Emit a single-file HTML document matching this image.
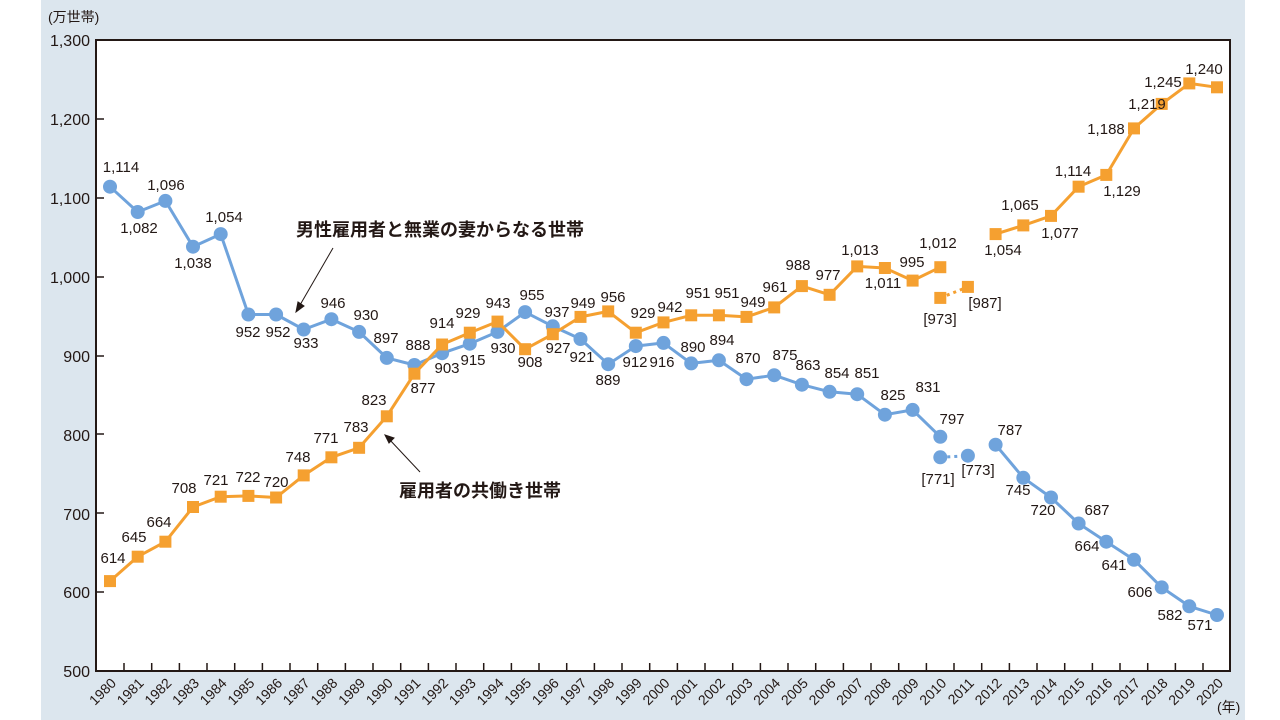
<!DOCTYPE html>
<html><head><meta charset="utf-8"><style>
html,body{margin:0;padding:0;background:#fff;}
svg{display:block;font-family:"Liberation Sans","Noto Sans CJK JP",sans-serif;}
.t{font-size:15px;fill:#231815;text-anchor:middle;}
.a{font-size:16px;fill:#231815;text-anchor:end;}
.x{font-size:14px;fill:#231815;text-anchor:end;}
</style></head><body>
<svg width="1280" height="720" viewBox="0 0 1280 720" xmlns="http://www.w3.org/2000/svg">
<rect x="41" y="0" width="1204" height="720" fill="#dce6ee"/>
<rect x="96" y="40" width="1134" height="631" fill="#fff" stroke="#231815" stroke-width="2"/>
<text x="48" y="22" style="font-size:14px;fill:#231815">(万世帯)</text>
<g>
<text class="a" x="90" y="46">1,300</text>
<text class="a" x="90" y="125">1,200</text>
<text class="a" x="90" y="204">1,100</text>
<text class="a" x="90" y="283">1,000</text>
<text class="a" x="90" y="362">900</text>
<text class="a" x="90" y="441">800</text>
<text class="a" x="90" y="520">700</text>
<text class="a" x="90" y="598">600</text>
<text class="a" x="90" y="677">500</text>
</g>
<g stroke="#231815" stroke-width="1.5">
<line x1="96" y1="119" x2="104" y2="119"/><line x1="96" y1="198" x2="104" y2="198"/><line x1="96" y1="277" x2="104" y2="277"/><line x1="96" y1="356" x2="104" y2="356"/><line x1="96" y1="434" x2="104" y2="434"/><line x1="96" y1="513" x2="104" y2="513"/><line x1="96" y1="592" x2="104" y2="592"/>
<path d="M124 671v-8M151.7 671v-8M179.4 671v-8M207 671v-8M234.7 671v-8M262.4 671v-8M290 671v-8M317.7 671v-8M345.4 671v-8M373 671v-8M400.7 671v-8M428.4 671v-8M456 671v-8M483.7 671v-8M511.4 671v-8M539 671v-8M566.7 671v-8M594.4 671v-8M622 671v-8M649.7 671v-8M677.4 671v-8M705 671v-8M732.7 671v-8M760.4 671v-8M788 671v-8M815.7 671v-8M843.4 671v-8M871 671v-8M898.7 671v-8M926.4 671v-8M954 671v-8M981.7 671v-8M1009.4 671v-8M1037 671v-8M1064.7 671v-8M1092.4 671v-8M1120 671v-8M1147.7 671v-8M1175.4 671v-8M1203 671v-8"/>
</g>
<g>
<text class="x" transform="translate(117,684) rotate(-45)">1980</text>
<text class="x" transform="translate(144.7,684) rotate(-45)">1981</text>
<text class="x" transform="translate(172.4,684) rotate(-45)">1982</text>
<text class="x" transform="translate(200,684) rotate(-45)">1983</text>
<text class="x" transform="translate(227.7,684) rotate(-45)">1984</text>
<text class="x" transform="translate(255.4,684) rotate(-45)">1985</text>
<text class="x" transform="translate(283.1,684) rotate(-45)">1986</text>
<text class="x" transform="translate(310.7,684) rotate(-45)">1987</text>
<text class="x" transform="translate(338.4,684) rotate(-45)">1988</text>
<text class="x" transform="translate(366.1,684) rotate(-45)">1989</text>
<text class="x" transform="translate(393.8,684) rotate(-45)">1990</text>
<text class="x" transform="translate(421.4,684) rotate(-45)">1991</text>
<text class="x" transform="translate(449.1,684) rotate(-45)">1992</text>
<text class="x" transform="translate(476.8,684) rotate(-45)">1993</text>
<text class="x" transform="translate(504.5,684) rotate(-45)">1994</text>
<text class="x" transform="translate(532.1,684) rotate(-45)">1995</text>
<text class="x" transform="translate(559.8,684) rotate(-45)">1996</text>
<text class="x" transform="translate(587.5,684) rotate(-45)">1997</text>
<text class="x" transform="translate(615.2,684) rotate(-45)">1998</text>
<text class="x" transform="translate(642.8,684) rotate(-45)">1999</text>
<text class="x" transform="translate(670.5,684) rotate(-45)">2000</text>
<text class="x" transform="translate(698.2,684) rotate(-45)">2001</text>
<text class="x" transform="translate(725.9,684) rotate(-45)">2002</text>
<text class="x" transform="translate(753.5,684) rotate(-45)">2003</text>
<text class="x" transform="translate(781.2,684) rotate(-45)">2004</text>
<text class="x" transform="translate(808.9,684) rotate(-45)">2005</text>
<text class="x" transform="translate(836.6,684) rotate(-45)">2006</text>
<text class="x" transform="translate(864.2,684) rotate(-45)">2007</text>
<text class="x" transform="translate(891.9,684) rotate(-45)">2008</text>
<text class="x" transform="translate(919.6,684) rotate(-45)">2009</text>
<text class="x" transform="translate(947.3,684) rotate(-45)">2010</text>
<text class="x" transform="translate(974.9,684) rotate(-45)">2011</text>
<text class="x" transform="translate(1002.6,684) rotate(-45)">2012</text>
<text class="x" transform="translate(1030.3,684) rotate(-45)">2013</text>
<text class="x" transform="translate(1058,684) rotate(-45)">2014</text>
<text class="x" transform="translate(1085.6,684) rotate(-45)">2015</text>
<text class="x" transform="translate(1113.3,684) rotate(-45)">2016</text>
<text class="x" transform="translate(1141,684) rotate(-45)">2017</text>
<text class="x" transform="translate(1168.7,684) rotate(-45)">2018</text>
<text class="x" transform="translate(1196.3,684) rotate(-45)">2019</text>
<text class="x" transform="translate(1224,684) rotate(-45)">2020</text>
</g>
<text x="1217" y="712" style="font-size:14px;fill:#231815">(年)</text>

<g fill="none" stroke="#6fa3dc" stroke-width="3" stroke-linejoin="round">
<polyline points="110,186.7 137.7,212 165.4,200.9 193,246.7 220.7,234.1 248.4,314.5 276.1,314.5 303.7,329.5 331.4,319.2 359.1,331.9 386.8,357.9 414.4,365 442.1,353.2 469.8,343.7 497.5,331.9 525.1,312.1 552.8,326.3 580.5,339 608.2,364.2 635.8,346.1 663.5,342.9 691.2,363.4 718.9,360.3 746.5,379.2 774.2,375.2 801.9,384.7 829.6,391.8 857.2,394.2 884.9,414.7 912.6,409.9 940.3,436.8"/>
<polyline points="995.6,444.7 1023.3,477.8 1051,497.5 1078.6,523.5 1106.3,541.7 1134,559.8 1161.7,587.4 1189.3,606.3 1217,615"/>
<line x1="940.3" y1="457.3" x2="967.9" y2="455.7" stroke-dasharray="3,4"/>
</g>
<g fill="#6fa3dc">
<circle cx="110" cy="186.7" r="7"/><circle cx="137.7" cy="212" r="7"/><circle cx="165.4" cy="200.9" r="7"/><circle cx="193" cy="246.7" r="7"/><circle cx="220.7" cy="234.1" r="7"/><circle cx="248.4" cy="314.5" r="7"/><circle cx="276.1" cy="314.5" r="7"/><circle cx="303.7" cy="329.5" r="7"/><circle cx="331.4" cy="319.2" r="7"/><circle cx="359.1" cy="331.9" r="7"/><circle cx="386.8" cy="357.9" r="7"/><circle cx="414.4" cy="365" r="7"/><circle cx="442.1" cy="353.2" r="7"/><circle cx="469.8" cy="343.7" r="7"/><circle cx="497.5" cy="331.9" r="7"/><circle cx="525.1" cy="312.1" r="7"/><circle cx="552.8" cy="326.3" r="7"/><circle cx="580.5" cy="339" r="7"/><circle cx="608.2" cy="364.2" r="7"/><circle cx="635.8" cy="346.1" r="7"/><circle cx="663.5" cy="342.9" r="7"/><circle cx="691.2" cy="363.4" r="7"/><circle cx="718.9" cy="360.3" r="7"/><circle cx="746.5" cy="379.2" r="7"/><circle cx="774.2" cy="375.2" r="7"/><circle cx="801.9" cy="384.7" r="7"/><circle cx="829.6" cy="391.8" r="7"/><circle cx="857.2" cy="394.2" r="7"/><circle cx="884.9" cy="414.7" r="7"/><circle cx="912.6" cy="409.9" r="7"/><circle cx="940.3" cy="436.8" r="7"/><circle cx="940.3" cy="457.3" r="7"/><circle cx="967.9" cy="455.7" r="7"/><circle cx="995.6" cy="444.7" r="7"/><circle cx="1023.3" cy="477.8" r="7"/><circle cx="1051" cy="497.5" r="7"/><circle cx="1078.6" cy="523.5" r="7"/><circle cx="1106.3" cy="541.7" r="7"/><circle cx="1134" cy="559.8" r="7"/><circle cx="1161.7" cy="587.4" r="7"/><circle cx="1189.3" cy="606.3" r="7"/><circle cx="1217" cy="615" r="7"/>
</g>

<g fill="none" stroke="#f5a030" stroke-width="3" stroke-linejoin="round">
<polyline points="110,581.1 137.7,556.7 165.4,541.7 193,507 220.7,496.7 248.4,495.9 276.1,497.5 303.7,475.4 331.4,457.3 359.1,447.8 386.8,416.3 414.4,373.7 442.1,344.5 469.8,332.7 497.5,321.6 525.1,349.2 552.8,334.2 580.5,316.9 608.2,311.4 635.8,332.7 663.5,322.4 691.2,315.3 718.9,315.3 746.5,316.9 774.2,307.4 801.9,286.1 829.6,294.8 857.2,266.4 884.9,268 912.6,280.6 940.3,267.2"/>
<polyline points="995.6,234.1 1023.3,225.4 1051,215.9 1078.6,186.7 1106.3,174.9 1134,128.4 1161.7,103.9 1189.3,83.4 1217,87.3"/>
<line x1="940.3" y1="297.9" x2="967.9" y2="286.9" stroke-dasharray="3,4"/>
</g>
<g fill="#f5a030">
<rect x="104" y="575.1" width="12" height="12"/><rect x="131.7" y="550.7" width="12" height="12"/><rect x="159.4" y="535.7" width="12" height="12"/><rect x="187" y="501" width="12" height="12"/><rect x="214.7" y="490.7" width="12" height="12"/><rect x="242.4" y="489.9" width="12" height="12"/><rect x="270.1" y="491.5" width="12" height="12"/><rect x="297.7" y="469.4" width="12" height="12"/><rect x="325.4" y="451.3" width="12" height="12"/><rect x="353.1" y="441.8" width="12" height="12"/><rect x="380.8" y="410.3" width="12" height="12"/><rect x="408.4" y="367.7" width="12" height="12"/><rect x="436.1" y="338.5" width="12" height="12"/><rect x="463.8" y="326.7" width="12" height="12"/><rect x="491.5" y="315.6" width="12" height="12"/><rect x="519.1" y="343.2" width="12" height="12"/><rect x="546.8" y="328.2" width="12" height="12"/><rect x="574.5" y="310.9" width="12" height="12"/><rect x="602.2" y="305.4" width="12" height="12"/><rect x="629.8" y="326.7" width="12" height="12"/><rect x="657.5" y="316.4" width="12" height="12"/><rect x="685.2" y="309.3" width="12" height="12"/><rect x="712.9" y="309.3" width="12" height="12"/><rect x="740.5" y="310.9" width="12" height="12"/><rect x="768.2" y="301.4" width="12" height="12"/><rect x="795.9" y="280.1" width="12" height="12"/><rect x="823.6" y="288.8" width="12" height="12"/><rect x="851.2" y="260.4" width="12" height="12"/><rect x="878.9" y="262" width="12" height="12"/><rect x="906.6" y="274.6" width="12" height="12"/><rect x="934.3" y="261.2" width="12" height="12"/><rect x="934.3" y="291.9" width="12" height="12"/><rect x="961.9" y="280.9" width="12" height="12"/><rect x="989.6" y="228.1" width="12" height="12"/><rect x="1017.3" y="219.4" width="12" height="12"/><rect x="1045" y="209.9" width="12" height="12"/><rect x="1072.6" y="180.7" width="12" height="12"/><rect x="1100.3" y="168.9" width="12" height="12"/><rect x="1128" y="122.4" width="12" height="12"/><rect x="1155.7" y="97.9" width="12" height="12"/><rect x="1183.3" y="77.4" width="12" height="12"/><rect x="1211" y="81.3" width="12" height="12"/>
</g>

<g>
<text class="t" x="121" y="172">1,114</text><text class="t" x="139" y="233">1,082</text><text class="t" x="166" y="190">1,096</text><text class="t" x="193" y="268">1,038</text><text class="t" x="224" y="222">1,054</text>
<text class="t" x="248" y="337">952</text><text class="t" x="278" y="337">952</text><text class="t" x="306" y="348">933</text><text class="t" x="333" y="308">946</text><text class="t" x="366" y="320">930</text><text class="t" x="386" y="343">897</text><text class="t" x="418" y="350">888</text><text class="t" x="447" y="373">903</text><text class="t" x="473" y="365">915</text><text class="t" x="503" y="353">930</text><text class="t" x="532" y="300">955</text><text class="t" x="557" y="317">937</text><text class="t" x="582" y="362">921</text><text class="t" x="608" y="385">889</text><text class="t" x="635" y="367">912</text><text class="t" x="662" y="367">916</text><text class="t" x="693" y="352">890</text><text class="t" x="722" y="345">894</text><text class="t" x="748" y="363">870</text><text class="t" x="785" y="360">875</text><text class="t" x="808" y="370">863</text><text class="t" x="837" y="378">854</text><text class="t" x="867" y="378">851</text><text class="t" x="893" y="400">825</text><text class="t" x="928" y="392">831</text><text class="t" x="952" y="424">797</text><text class="t" x="938" y="484">[771]</text><text class="t" x="978" y="475">[773]</text><text class="t" x="1010" y="435">787</text><text class="t" x="1018" y="495">745</text><text class="t" x="1043" y="515">720</text><text class="t" x="1097" y="515">687</text><text class="t" x="1087" y="551">664</text><text class="t" x="1114" y="570">641</text><text class="t" x="1140" y="597">606</text><text class="t" x="1170" y="620">582</text><text class="t" x="1200" y="630">571</text>
</g>
<g>
<text class="t" x="113" y="563">614</text><text class="t" x="134" y="542">645</text><text class="t" x="159" y="527">664</text><text class="t" x="184" y="493">708</text><text class="t" x="216" y="485">721</text><text class="t" x="248" y="482">722</text><text class="t" x="276" y="487">720</text><text class="t" x="298" y="462">748</text><text class="t" x="326" y="443">771</text><text class="t" x="356" y="432">783</text><text class="t" x="374" y="405">823</text><text class="t" x="423" y="393">877</text><text class="t" x="442" y="328">914</text><text class="t" x="468" y="318">929</text><text class="t" x="498" y="308">943</text><text class="t" x="530" y="367">908</text><text class="t" x="558" y="353">927</text><text class="t" x="583" y="308">949</text><text class="t" x="613" y="302">956</text><text class="t" x="643" y="318">929</text><text class="t" x="670" y="312">942</text><text class="t" x="698" y="298">951</text><text class="t" x="727" y="298">951</text><text class="t" x="753" y="307">949</text><text class="t" x="775" y="292">961</text><text class="t" x="798" y="270">988</text><text class="t" x="828" y="280">977</text><text class="t" x="860" y="255">1,013</text><text class="t" x="883" y="288">1,011</text><text class="t" x="912" y="267">995</text><text class="t" x="938" y="248">1,012</text><text class="t" x="940" y="324">[973]</text><text class="t" x="985" y="308">[987]</text><text class="t" x="1003" y="255">1,054</text><text class="t" x="1020" y="210">1,065</text><text class="t" x="1060" y="238">1,077</text><text class="t" x="1073" y="176">1,114</text><text class="t" x="1122" y="196">1,129</text><text class="t" x="1106" y="134">1,188</text><text class="t" x="1147" y="109">1,219</text><text class="t" x="1163" y="87">1,245</text><text class="t" x="1204" y="74">1,240</text>
</g>

<text x="440" y="236" style="font-size:18px;fill:#231815;text-anchor:middle;font-weight:bold">男性雇用者と無業の妻からなる世帯</text>
<text x="480" y="497" style="font-size:18px;fill:#231815;text-anchor:middle;font-weight:bold">雇用者の共働き世帯</text>
<g stroke="#231815" stroke-width="1" fill="#231815">
<line x1="333" y1="248" x2="300" y2="305"/><path d="M296 312 L298 302 L304 306 Z"/>
<line x1="420" y1="472" x2="389" y2="439"/><path d="M385 435 L394 438 L389 443 Z"/>
</g>
</svg>
</body></html>
